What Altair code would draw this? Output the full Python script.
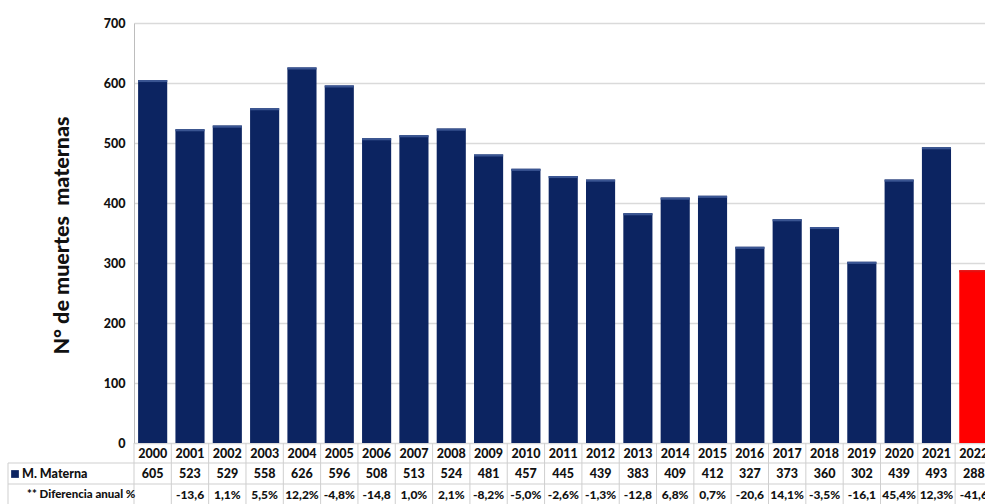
import altair as alt
import pandas as pd

# Maternal deaths per year with the annual change shown in the table row
years = list(range(2000, 2023))
deaths = [605, 523, 529, 558, 626, 596, 508, 513, 524, 481, 457, 445,
          439, 383, 409, 412, 327, 373, 360, 302, 439, 493, 288]
annual_change = ["", "-13,6", "1,1%", "5,5%", "12,2%", "-4,8%", "-14,8",
                 "1,0%", "2,1%", "-8,2%", "-5,0%", "-2,6%", "-1,3%", "-12,8",
                 "6,8%", "0,7%", "-20,6", "14,1%", "-3,5%", "-16,1", "45,4%",
                 "12,3%", "-41,6"]
y_ticks = [0, 100, 200, 300, 400, 500, 600, 700]
highlight_year = 2022

FONT = "Lato, sans-serif"
WEIGHT = 900
NAVY = "#0c2461"
NAVY_TOP = "#3a5592"
RED = "#ff0000"
RED_TOP = "#e41010"
GRID = "#cfcfcf"

df = pd.DataFrame({
    "idx": list(range(len(years))),
    "year": [str(y) for y in years],
    "value": deaths,
    "change": annual_change,
})
df["x0"] = df["idx"] - 0.39
df["x1"] = df["idx"] + 0.39
df["top"] = df["value"] - 3.5
df["hl"] = [y == highlight_year for y in years]

edges = pd.DataFrame({"edge": [i - 0.5 for i in range(len(years) + 1)]})
one = pd.DataFrame({"k": [0]})

xs = alt.Scale(domain=[-0.5, 22.3], nice=False, zero=False)
ys = alt.Scale(domain=[0, 700], nice=False)

y_axis = alt.Axis(
    values=y_ticks, grid=True, gridColor="#dadada", gridWidth=1.5,
    domainColor="#bdbdbd", domainWidth=1, ticks=False,
    labelFont=FONT, labelFontWeight=WEIGHT, labelFontSize=12.5,
    labelColor="#111", labelPadding=9,
    title="N° de muertes\u00a0\u00a0maternas", titleFont=FONT,
    titleFontSize=21.5, titleFontWeight=WEIGHT, titleColor="#111",
    titleX=-72, titleY=212, titleAngle=270, titleAlign="center",
    titleBaseline="middle",
)

base = alt.Chart(df)

bars = base.mark_rect(clip=True).encode(
    x=alt.X("x0:Q", scale=xs, axis=None),
    x2="x1:Q",
    y=alt.Y("value:Q", scale=ys, axis=y_axis),
    y2=alt.datum(0),
    color=alt.condition("datum.hl", alt.value(RED), alt.value(NAVY)),
)

bar_tops = base.mark_rect(clip=True).encode(
    x=alt.X("x0:Q", scale=xs, axis=None),
    x2="x1:Q",
    y=alt.Y("value:Q", scale=ys),
    y2="top:Q",
    color=alt.condition("datum.hl", alt.value(RED_TOP), alt.value(NAVY_TOP)),
)

# table grid: column separators and row separators
col_lines = alt.Chart(edges).mark_rule(color=GRID, strokeWidth=1).encode(
    x=alt.X("edge:Q", scale=xs, axis=None),
    y=alt.value(420), y2=alt.value(481),
)
row_line_1 = alt.Chart(one).mark_rule(color=GRID, strokeWidth=1).encode(
    x=alt.value(-126), x2=alt.value(851), y=alt.value(440))
row_line_2 = alt.Chart(one).mark_rule(color=GRID, strokeWidth=1).encode(
    x=alt.value(-126), x2=alt.value(851), y=alt.value(461))
left_line = alt.Chart(one).mark_rule(color=GRID, strokeWidth=1).encode(
    x=alt.value(-126), y=alt.value(440), y2=alt.value(481))

def table_row(field, ypix, size):
    return base.mark_text(font=FONT, fontSize=size, fontWeight=WEIGHT,
                          color="#111", baseline="middle").encode(
        x=alt.X("idx:Q", scale=xs, axis=None),
        y=alt.value(ypix),
        text=f"{field}:N",
    )

year_row = table_row("year", 430.5, 12.5)
value_row = table_row("value", 451, 12.5)
change_row = table_row("change", 471.5, 12)

legend_sq = alt.Chart(one).mark_square(color=NAVY, size=60, opacity=1).encode(
    x=alt.value(-119), y=alt.value(451))
label_1 = alt.Chart(one).mark_text(
    text="M. Materna", font=FONT, fontSize=12.5, fontWeight=WEIGHT,
    color="#111", align="left", baseline="middle").encode(
    x=alt.value(-112), y=alt.value(451))
label_2 = alt.Chart(one).mark_text(
    text="** Diferencia anual %", font=FONT, fontSize=11.5, fontWeight=WEIGHT,
    color="#111", align="left", baseline="middle").encode(
    x=alt.value(-107), y=alt.value(471.5))

chart = alt.layer(
    bars, bar_tops, col_lines, row_line_1, row_line_2, left_line,
    year_row, value_row, change_row, legend_sq, label_1, label_2,
).properties(
    width=851, height=420,
    autosize=alt.AutoSizeParams(type="none"),
    padding={"left": 134, "top": 23, "right": 0, "bottom": 61},
    background="white",
).configure_view(stroke=None)

chart.save("out.html", embed_options={"renderer": "svg", "actions": False})
